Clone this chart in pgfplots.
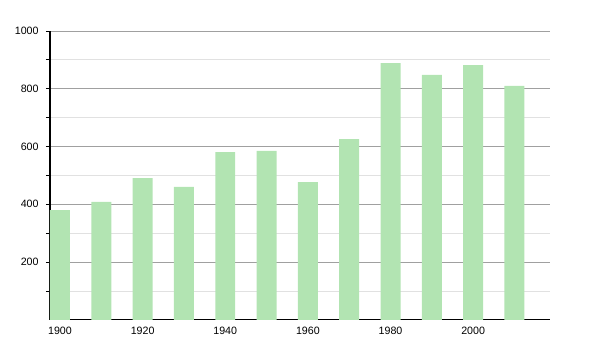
\documentclass[border=0pt]{standalone}
\usepackage{fontspec}
\setmainfont{Liberation Sans}
\usepackage{pgfplots}
\pgfplotsset{compat=1.18}
\definecolor{barg}{RGB}{178,228,178}
\definecolor{majg}{RGB}{160,160,160}
\definecolor{ming}{RGB}{225,225,225}
\begin{document}
\begin{tikzpicture}
\begin{axis}[
  name=ax,
  scale only axis,
  width=375.5pt, height=216.75pt,
  xmin=1897.58, xmax=2018.7,
  ymin=0, ymax=1000,
  axis x line*=bottom,
  axis y line*=left,
  axis line style={black, line width=0.8pt},
  ybar, bar width=15pt,
  xtick={1900,1920,1940,1960,1980,2000},
  ytick={200,400,600,800,1000},
  minor ytick={100,300,500,700,900},
  xtick style={draw=none},
  ytick style={black, line width=0.6pt},
  minor tick length=3pt, major tick length=3pt,
  tick align=outside,
  ymajorgrids, yminorgrids,
  major grid style={majg, line width=0.6pt},
  minor grid style={ming, line width=0.6pt},
  /pgf/number format/assume math mode=true,
  /pgf/number format/1000 sep={},
  x tick label style={font=\fontsize{8}{9.5}\selectfont, yshift=1pt},
  y tick label style={font=\fontsize{8}{9.5}\selectfont, xshift=-2pt},
]
\addplot[fill=barg, draw=none] coordinates {
 (1900,380) (1910,408) (1920,491) (1930,460) (1940,581) (1950,585)
 (1960,477) (1970,626) (1980,889) (1990,848) (2000,882) (2010,810)
};
\end{axis}
\path (ax.south west) +(-37.5pt,-22.5pt) (ax.north east) +(37.2pt,23.25pt);
\end{tikzpicture}
\end{document}
